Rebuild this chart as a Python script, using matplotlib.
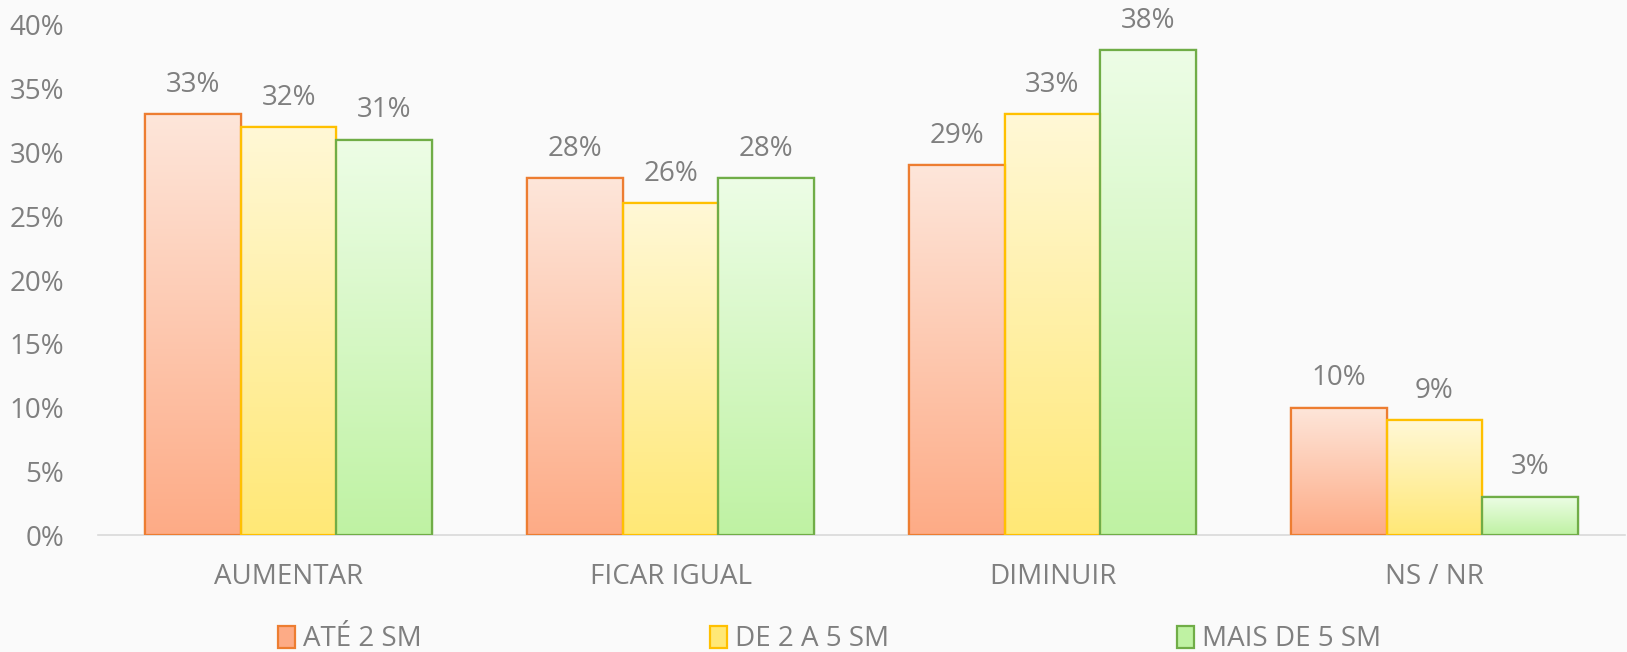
import numpy as np
import matplotlib.pyplot as plt
from matplotlib.colors import LinearSegmentedColormap

plt.rcParams['font.family'] = ['Open Sans', 'DejaVu Sans']

categories = ["AUMENTAR", "FICAR IGUAL", "DIMINUIR", "NS / NR"]
series_names = ["ATÉ 2 SM", "DE 2 A 5 SM", "MAIS DE 5 SM"]
ate_2 = [33, 28, 29, 10]
de_2_a_5 = [32, 26, 33, 9]
mais_de_5 = [31, 28, 38, 3]
yticks = [0, 5, 10, 15, 20, 25, 30, 35, 40]

# (top colour, bottom colour, edge colour)
styles = [("#fee6da", "#fdab86", "#ed7d31"),
          ("#fff8d6", "#ffe876", "#ffc000"),
          ("#edfde6", "#bff2a3", "#70ad47")]

txt = "#7f7f7f"
fs = 20

fig = plt.figure(figsize=(16.27, 6.52), dpi=100)
fig.patch.set_facecolor("#fafafa")
ax = fig.add_axes([0.06, 0.1794, 0.939, 0.7823])
ax.set_facecolor("none")

x = np.arange(len(categories))
w = 0.25
grad = np.linspace(0, 1, 256).reshape(-1, 1)

for i, (vals, name) in enumerate(zip([ate_2, de_2_a_5, mais_de_5], series_names)):
    top, bot, edge = styles[i]
    bars = ax.bar(x + (i - 1) * w, vals, w, facecolor=bot, edgecolor=edge,
                  linewidth=1.6, label=name, zorder=2)
    cmap = LinearSegmentedColormap.from_list("g%d" % i, [bot, top])
    for b in bars:
        x0, y0 = b.get_x(), b.get_y()
        im = ax.imshow(grad, cmap=cmap, aspect="auto", origin="lower",
                       extent=[x0, x0 + b.get_width(), y0, y0 + b.get_height()],
                       zorder=2.5)
        im.set_clip_path(b)
        # redraw edge on top of the gradient
        ax.bar(b.get_x() + b.get_width() / 2, b.get_height(), b.get_width(),
               facecolor="none", edgecolor=edge, linewidth=1.6, zorder=3)
        ax.annotate("%d%%" % b.get_height(), (b.get_x() + b.get_width() / 2, b.get_height()),
                    xytext=(0, 11), textcoords="offset points", ha="center", va="bottom",
                    fontsize=fs, color=txt)

ax.set_xlim(-0.5, 3.5)
ax.set_ylim(0, 40)
ax.set_xticks(x)
ax.set_xticklabels(categories)
ax.set_yticks(yticks)
ax.set_yticklabels(["%d%%" % t for t in yticks])
ax.tick_params(axis="x", length=0, pad=20, labelsize=fs, labelcolor=txt)
ax.tick_params(axis="y", length=0, pad=24, labelsize=fs, labelcolor=txt)
for s in ["top", "right", "left"]:
    ax.spines[s].set_visible(False)
ax.spines["bottom"].set_color("#d9d9d9")
ax.spines["bottom"].set_linewidth(1.2)

fig.legend(loc="lower left", bbox_to_anchor=(0.171, -0.002, 0.678, 0.05), mode="expand",
           ncol=3, frameon=False, borderaxespad=0, borderpad=0,
           handlelength=0.6, handleheight=0.85, handletextpad=0.3,
           fontsize=fs, labelcolor=txt)

fig.savefig("out.png", dpi=100, facecolor=fig.get_facecolor())
